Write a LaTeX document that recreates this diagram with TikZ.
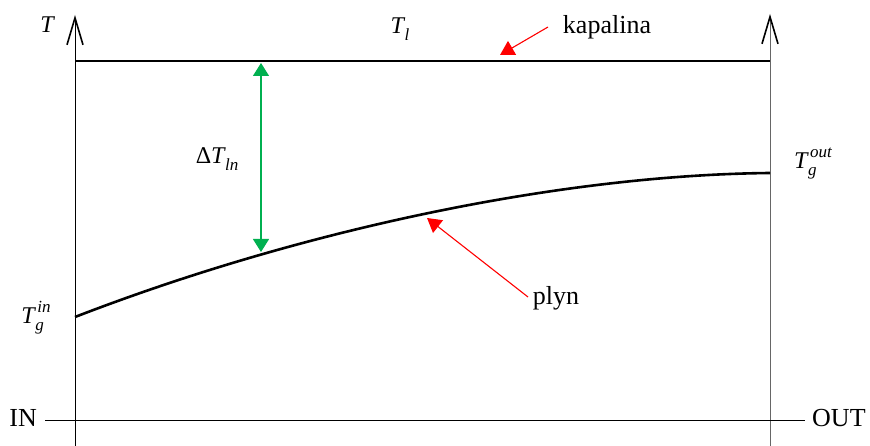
\documentclass[tikz,border=0pt]{standalone}
\usepackage{fontspec}
\setmainfont{Liberation Serif}
\usetikzlibrary{arrows.meta, positioning}
\definecolor{zelena}{RGB}{0,176,80}
\definecolor{cervena}{RGB}{255,0,0}
\newcommand{\malepismo}{\fontsize{17}{20}\selectfont\itshape}
\newcommand{\velsub}[2]{#1\kern0.5pt\raisebox{-0.3em}{\malepismo #2}}
\newcommand{\velsubsup}[3]{#1\kern0.5pt\rlap{\raisebox{-0.3em}{\malepismo #2}}\kern2pt\raisebox{0.45em}{\malepismo #3}}

\begin{document}
\begin{tikzpicture}[
  x=1pt, y=-1pt,
  lbl/.style={inner sep=0pt, font=\fontsize{26}{30}\selectfont},
  mlbl/.style={inner sep=0pt, font=\fontsize{24}{28}\selectfont\itshape},
  axis/.style={line width=0.9pt, -{Straight Barb[length=27pt,width=16pt,line width=1.6pt,color=black]}},
  thickline/.style={line width=2.6pt},
  ukaz/.style={cervena, line width=1.1pt, -{Triangle[length=14pt,width=16pt]}},
  rozdil/.style={zelena, line width=1.1pt, {Triangle[length=13pt,width=16pt]}-{Triangle[length=13pt,width=16pt]}},
]
  \useasboundingbox (0,0) rectangle (870,446);

  \coordinate (a0) at (75,446);
  \coordinate (a1) at (75,15);
  \coordinate (b0) at (770,446);
  \coordinate (b1) at (770,14);
  \coordinate (in0) at (45,420);
  \coordinate (out0) at (805,420);
  \coordinate (l0) at (75,61);
  \coordinate (l1) at (770,61);
  \coordinate (g0) at (75,317);
  \coordinate (g1) at (770,173);
  \coordinate (dtop) at (261,63);
  \coordinate (dbot) at (261,252);
  \coordinate (ks) at (548,27);
  \coordinate (kt) at (500,55);
  \coordinate (ps) at (528,297);
  \coordinate (pt) at (427,218);

  \node[mlbl] (T) at (47,25) {T};
  \node[mlbl] (Tl) at (400,29) {\velsub{T}{l}};
  \node[mlbl] (dT) at (217,159) {\velsub{{\upshape Δ}T}{ln}};
  \node[mlbl] (Tout) at (813,164) {\velsubsup{T}{g}{out}};
  \node[mlbl] (Tin) at (36,318) {\velsubsup{T}{g}{in}};
  \node[lbl] (kap) at (607,27) {kapalina};
  \node[lbl] (ply) at (556,298) {plyn};
  \node[lbl, anchor=east] (IN) at (37,418) {IN};
  \node[lbl, anchor=west] (OUT) at (812,418) {OUT};

  \draw[axis] (a0) -- (a1);
  \draw[axis, draw=black!60] (b0) -- (b1);
  \draw[line width=0.9pt] (in0) -- (out0);
  \draw[thickline] (l0) -- (l1);
  \draw[thickline] (g0) .. controls (300,230) and (560,175) .. (g1);
  \draw[rozdil] (dtop) -- (dbot);
  \draw[ukaz] (ks) -- (kt);
  \draw[ukaz] (ps) -- (pt);
\end{tikzpicture}
\end{document}
